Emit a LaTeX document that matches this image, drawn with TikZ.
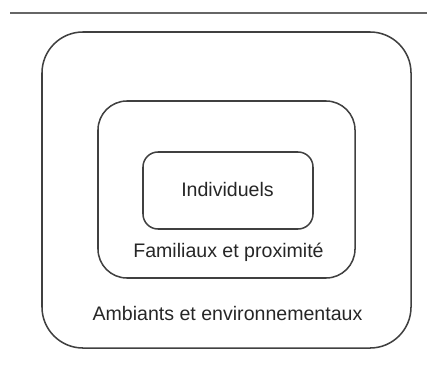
\documentclass[tikz,border=0pt]{standalone}
\usepackage{fontspec}
\setmainfont{Liberation Sans}
\usetikzlibrary{positioning}

\begin{document}
\begin{tikzpicture}[
  x=0.03cm, y=-0.03cm,
  font=\fontsize{16.7}{20}\selectfont,
  ring/.style={draw=black!75, line width=1.3pt, minimum width=#1},
  lbl/.style={text=black!85, inner sep=0pt},
]
\useasboundingbox (0,0) rectangle (427,365);
\draw[black!60, line width=1.6pt] (10,13) coordinate (rl) -- (427,13) coordinate (rr);

\node[ring=11.07cm, minimum height=9.48cm, rounded corners=1.23cm] (outer) at (226.5,190) {};
\node[ring=7.71cm, minimum height=5.31cm, rounded corners=0.87cm] (middle) at (226.5,189.5) {};
\node[ring=5.1cm, minimum height=2.31cm, rounded corners=0.45cm] (inner) at (228,190.5) {};

\node[lbl] (tin)  at (227.5,190) {Individuels};
\node[lbl] (tmid) at (228.5,252) {Familiaux et proximité};
\node[lbl] (tout) at (227.5,314) {Ambiants et environnementaux};
\end{tikzpicture}
\end{document}
